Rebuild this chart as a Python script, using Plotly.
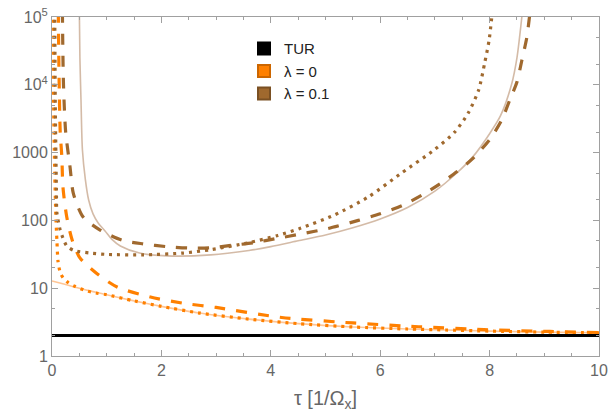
import plotly.graph_objects as go

# ---- data ----
tau_tur = [0, 10]
tur = [2, 2]

# lambda = 0, solid (light orange)
x_o_solid = [0, 0.25, 0.5, 0.75, 1.0, 1.5, 2.0, 2.7, 3.6, 4.5, 5.5, 6.5, 7.2, 8.0, 9.0, 10.0]
y_o_solid = [12.8, 11.3, 10.0, 8.9, 8.0, 6.5, 5.4, 4.3, 3.5, 3.0, 2.68, 2.5, 2.42, 2.33, 2.25, 2.2]

# lambda = 0, dashed
x_o_dash = [0.115, 0.13, 0.15, 0.18, 0.2, 0.27, 0.37, 0.51, 0.83, 1.19, 1.8, 2.4, 3.0, 4.2, 5.5, 6.7, 7.9, 9.1, 10.0]
y_o_dash = [1.2e5, 12000, 2000, 860, 310, 112, 51, 28, 16.2, 10.4, 7.4, 6.0, 5.2, 3.7, 3.07, 2.7, 2.45, 2.3, 2.22]

# lambda = 0, dotted
x_o_dot = [0.02, 0.03, 0.05, 0.07, 0.09, 0.11, 0.15, 0.2, 0.3, 0.4, 0.6, 0.8, 1.0, 1.5, 2.0, 2.7, 3.6, 4.5, 5.5, 6.5, 7.2, 8.0, 9.0, 10.0]
y_o_dot = [1.2e5, 5000, 500, 120, 50, 25, 17, 14.3, 12.0, 10.8, 9.3, 8.5, 8.0, 6.5, 5.4, 4.3, 3.5, 3.0, 2.68, 2.5, 2.42, 2.33, 2.25, 2.2]

# lambda = 0.1, solid (light brown)
x_b_solid = [0.5, 0.51, 0.53, 0.556, 0.61, 0.67, 0.75, 0.85, 0.97, 1.1, 1.25, 1.6, 2.1, 2.9, 3.6, 4.0, 4.5, 5.0, 5.5, 6.0, 6.5, 7.0, 7.4, 7.7, 8.0, 8.2, 8.4, 8.5, 8.6]
y_b_solid = [1.2e5, 25000, 6000, 1100, 400, 200, 125, 90, 70, 52, 42, 33, 30, 31, 36, 41, 50, 61, 78, 105, 155, 270, 500, 880, 1900, 3500, 10000, 25000, 1.2e5]

# lambda = 0.1, dashed
x_b_dash = [0.19, 0.21, 0.25, 0.33, 0.39, 0.57, 0.88, 1.28, 1.67, 2.1, 2.5, 2.9, 3.3, 3.7, 4.1, 4.55, 5.05, 5.6, 6.0, 6.4, 6.8, 7.1, 7.4, 7.7, 8.0, 8.22, 8.37, 8.5, 8.59, 8.68, 8.74]
y_b_dash = [1.2e5, 10000, 2000, 610, 250, 112, 72, 51, 45, 41, 39.2, 39.5, 43, 47, 54, 63, 76, 100, 125, 165, 245, 350, 520, 830, 1550, 3000, 6000, 11000, 23000, 50000, 1.2e5]

# lambda = 0.1, dotted
x_b_dot = [0.05, 0.06, 0.08, 0.09, 0.15, 0.2, 0.27, 0.4, 0.7, 1.0, 1.67, 2.4, 2.9, 3.6, 4.13, 4.55, 5.16, 5.78, 6.39, 6.99, 7.36, 7.61, 7.8, 7.91, 7.99, 8.05]
y_b_dot = [1.2e5, 5000, 300, 128, 72, 55, 42, 36, 33, 31.5, 31, 33, 37, 47, 60, 77, 120, 221, 500, 1100, 2000, 3850, 8400, 21000, 45000, 1.2e5]

legend_names = ["TUR", "λ = 0", "λ = 0.1"]
legend_colors = ["#000000", "#ff8000", "#a0692e"]
legend_borders = ["#000000", "#cc6600", "#7a5023"]

y_tickvals = [1, 10, 100, 1000, 1e4, 1e5]
y_ticktext = ["1", "10", "100", "1000", "10<sup>4</sup>", "10<sup>5</sup>"]
x_tickvals = [0, 2, 4, 6, 8, 10]

ORANGE = "#ff8000"
BROWN = "#a0692e"
DASH = "11px,11px"
DOT = "3px,5px"
FONT = "Liberation Sans, Arial, sans-serif"

fig = go.Figure()

def add(x, y, color, width, dash="solid", shape="spline"):
    fig.add_trace(go.Scatter(x=x, y=y, mode="lines", showlegend=False, hoverinfo="skip",
                             line=dict(color=color, width=width, dash=dash, shape=shape, smoothing=0.7)))

add(x_o_solid, y_o_solid, "rgba(255,150,60,0.55)", 1.6)
add(x_b_solid, y_b_solid, "rgba(170,120,80,0.5)", 1.6)
add(x_o_dash, y_o_dash, ORANGE, 3.2, DASH)
add(x_o_dot, y_o_dot, ORANGE, 3.2, DOT)
add(x_b_dash, y_b_dash, BROWN, 3.2, DASH)
add(x_b_dot, y_b_dot, BROWN, 3.2, DOT)
add(tau_tur, tur, "#000000", 3, "solid", "linear")

for name, c, b in zip(legend_names, legend_colors, legend_borders):
    fig.add_trace(go.Scatter(x=[None], y=[None], mode="markers", name=name,
                             marker=dict(symbol="square", size=12, color=c, line=dict(color=b, width=1))))

axis_common = dict(showline=True, linecolor="#a0a0a0", linewidth=1, mirror="ticks",
                   ticks="inside", tickcolor="#a0a0a0", showgrid=False, zeroline=False,
                   automargin=False,
                   tickfont=dict(family=FONT, size=16, color="#666666"))

fig.update_layout(
    width=608, height=418,
    margin=dict(l=52, r=9, t=17, b=62),
    paper_bgcolor="white", plot_bgcolor="white",
    xaxis=dict(range=[0, 10], tickvals=x_tickvals, ticklen=6,
               minor=dict(dtick=0.5, ticks="inside", ticklen=3, tickcolor="#a0a0a0", showgrid=False),
               title=dict(text="τ [1/Ω<sub>x</sub>]", standoff=12,
                          font=dict(family=FONT, size=20, color="#666666")),
               **axis_common),
    yaxis=dict(type="log", range=[0, 5], tickvals=y_tickvals, ticktext=y_ticktext, ticklen=6,
               minor=dict(ticks="inside", ticklen=3, tickcolor="#a0a0a0", showgrid=False),
               **axis_common),
    legend=dict(x=0.351, y=0.955, xanchor="left", yanchor="top", bgcolor="rgba(0,0,0,0)",
                font=dict(family=FONT, size=15, color="#222222"),
                itemwidth=30, itemsizing="constant", tracegroupgap=0),
)

fig.write_html("out.html")
